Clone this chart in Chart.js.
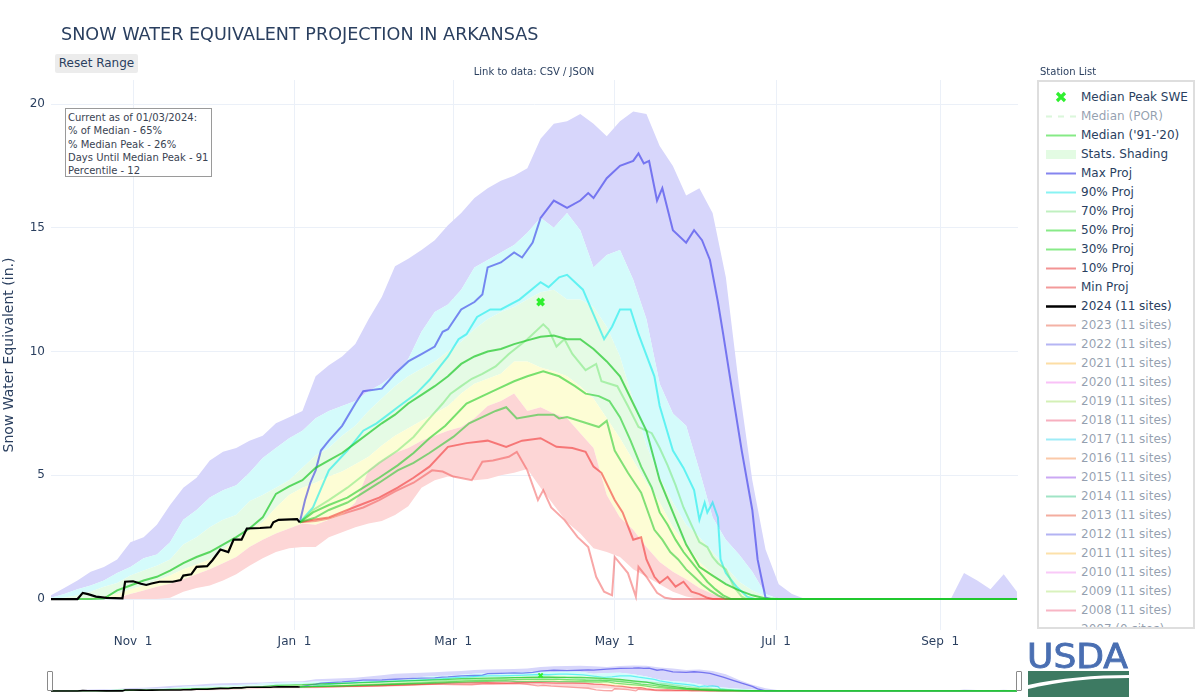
<!DOCTYPE html>
<html>
<head>
<meta charset="utf-8">
<script src="https://cdn.jsdelivr.net/npm/chart.js@4.4.1/dist/chart.umd.min.js"></script>
<style>
  html,body{margin:0;padding:0;background:#fff;}
  #wrap{position:relative;width:1200px;height:700px;overflow:hidden;font-family:"DejaVu Sans",Verdana,sans-serif;color:#2a3f5f;}
  #main{position:absolute;left:0;top:0;}
  #mini{position:absolute;left:51px;top:662px;}
  .abs{position:absolute;white-space:nowrap;}
  #title{left:61px;top:23px;font-size:17.6px;line-height:22px;color:#2a3f5f;}
  #reset{left:55px;top:54px;width:83px;height:19px;background:#ececec;border-radius:2px;font-size:12px;line-height:19px;text-align:center;color:#2a3f5f;}
  #link{left:534px;top:66px;font-size:10px;line-height:12px;transform:translateX(-50%);color:#2a3f5f;}
  #station{left:1040px;top:66px;font-size:10px;line-height:12px;color:#2a3f5f;}
  #info{left:65px;top:108px;width:147px;height:69px;border:1px solid #9a9a9a;background:#fff;font-size:10px;line-height:13.3px;color:#3a4352;padding:2px 0 0 2px;box-sizing:border-box;white-space:nowrap;}
  #legend{left:1037px;top:80px;width:158px;height:549px;border:2px solid #dedede;background:#fff;box-sizing:border-box;overflow:hidden;}
  .row{position:absolute;left:0;height:19px;width:158px;}
  .row svg{position:absolute;left:7px;top:0;}
  .row span{position:absolute;left:42px;top:0;font-size:12px;line-height:19px;}
  .handle{position:absolute;width:4px;height:18px;border:1px solid #8a8a8a;background:#fff;border-radius:1px;}
  #usda{left:1025px;top:640px;}
</style>
</head>
<body>
<div id="wrap">
  <canvas id="main" width="1200" height="700"></canvas>
  <canvas id="mini" width="967" height="31"></canvas>
  <div class="abs" id="title">SNOW WATER EQUIVALENT PROJECTION IN ARKANSAS</div>
  <div class="abs" id="reset">Reset Range</div>
  <div class="abs" id="link">Link to data: CSV / JSON</div>
  <div class="abs" id="station">Station List</div>
  <div class="abs" id="info">Current as of 01/03/2024:<br>% of Median - 65%<br>% Median Peak - 26%<br>Days Until Median Peak - 91<br>Percentile - 12</div>
  <div class="abs" id="legend"></div>
  <div class="handle" style="left:47px;top:671px;"></div>
  <div class="handle" style="left:1016px;top:671px;"></div>
  <svg class="abs" id="usda" width="108" height="58" viewBox="0 0 108 58">
    <text x="2" y="28" font-family="Liberation Sans Narrow, DejaVu Sans Condensed, Arial" font-size="34" font-weight="normal" fill="#4a6fb2" stroke="#4a6fb2" stroke-width="0.8" textLength="101" lengthAdjust="spacingAndGlyphs">USDA</text>
    <path d="M3 31 L104 31 L104 35 C70 35 35 38 3 45 Z" fill="#3d7a62"/>
    <path d="M3 49 C35 41 70 38 104 38 L104 57 L3 57 Z" fill="#3d7a62"/>
  </svg>
</div>
<script>
// ---- data: days counted from 1 Oct 2023 (water year 2024) ----
const waterYearStart = '2023-10-01';
const tickDates  = ['2023-11-01','2024-01-01','2024-03-01','2024-05-01','2024-07-01','2024-09-01'];
const tickLabels = ['Nov  1','Jan  1','Mar  1','May  1','Jul  1','Sep  1'];
const yTickValues = [0, 5, 10, 15, 20];

const statDays = [0,5,10,15,20,25,30,35,40,45,
  50,55,60,65,70,75,80,85,90,95,
  100,105,110,115,120,125,130,135,140,145,
  150,155,160,165,170,175,180,185,190,195,
  200,205,210,215,220,225,230,235,240,245,
  250,255,260,265,270,275,280,285,290,295,
  300,305,310,315,320,325,330,335,340,345,
  350,355,360,365];

const statMax = [0.15,0.45,0.75,1.1,1.3,1.6,2.3,2.5,3.0,3.8,
  4.5,4.9,5.6,5.95,6.1,6.4,6.6,7.1,7.35,7.6,
  9.0,9.45,9.8,10.3,11.3,12.2,13.45,13.75,14.1,14.5,
  15.1,15.6,16.2,16.6,16.9,17.1,17.4,18.6,19.2,19.3,
  19.6,19.2,18.7,19.3,19.7,19.6,18.3,17.5,16.3,16.6,
  15.6,13.0,8.6,4.8,2.0,0.6,0.2,0,0,0,
  0,0,0,0,0,0,0,0,0,1.05,
  0.75,0.4,1.0,0.3];

const stat90 = [0.05,0.2,0.4,0.55,0.75,1.05,1.3,1.65,1.8,2.3,
  3.2,3.6,4.1,4.4,4.6,5.1,5.7,6.1,6.5,6.8,
  7.3,7.6,7.8,8.0,8.4,8.7,9.1,9.7,10.8,11.6,
  11.9,12.5,13.4,13.7,14.0,14.3,14.8,15.4,15.0,15.6,
  14.9,13.4,13.9,14.1,12.9,11.3,8.7,7.5,7.0,5.2,
  3.3,2.4,1.8,1.1,0.2,0,0,0,0,0,
  0,0,0,0,0,0,0,0,0,0,
  0,0,0,0];

const stat70 = [0,0.05,0.15,0.3,0.5,0.65,0.95,1.15,1.35,1.6,
  2.2,2.5,2.9,3.2,3.4,3.95,4.2,4.5,4.8,5.3,
  5.8,6.1,6.6,7.0,7.6,8.1,8.6,9.0,9.3,9.6,
  10.0,10.4,10.9,11.3,11.6,11.8,12.1,12.4,12.5,12.1,
  12.1,11.8,11.0,9.8,8.0,6.2,4.9,3.9,3.0,2.5,
  1.9,1.3,0.7,0.35,0.1,0,0,0,0,0,
  0,0,0,0,0,0,0,0,0,0,
  0,0,0,0];

const stat30 = [0,0,0.02,0.05,0.1,0.2,0.4,0.55,0.75,0.95,
  1.2,1.4,1.6,2.0,2.4,2.8,3.1,3.7,4.2,4.5,
  4.7,4.95,5.15,5.45,5.75,6.2,6.6,6.9,7.2,7.5,
  7.8,8.3,8.7,8.9,9.1,9.6,9.6,9.35,9.2,9.0,
  8.6,8.1,7.3,6.5,5.6,4.7,3.9,2.9,2.2,1.5,
  1.0,0.6,0.3,0.1,0,0,0,0,0,0,
  0,0,0,0,0,0,0,0,0,0,
  0,0,0,0];

const stat10 = [0,0,0,0,0,0.05,0.2,0.35,0.5,0.62,
  0.8,1.0,1.2,1.45,1.7,2.1,2.4,2.65,2.85,3.05,
  3.0,3.2,3.4,3.9,5.2,5.6,5.9,6.1,6.4,6.6,
  6.8,6.95,7.3,7.8,8.0,8.3,7.6,7.75,7.5,7.3,
  6.7,6.1,4.2,3.3,2.8,2.1,1.5,1.1,0.8,0.45,
  0.2,0.05,0,0,0,0,0,0,0,0,
  0,0,0,0,0,0,0,0,0,0,
  0,0,0,0];

const statMin = [0,0,0,0,0,0,0,0,0,0.05,
  0.3,0.45,0.55,0.75,1.0,1.35,1.65,1.9,2.05,2.1,
  2.1,2.5,2.7,2.9,3.05,3.15,3.4,3.75,4.5,4.8,
  4.95,4.9,4.8,4.85,5.0,5.1,5.25,4.5,3.8,3.1,
  2.65,2.05,1.9,1.7,1.2,0.9,0.6,0.3,0.1,0,
  0,0,0,0,0,0,0,0,0,0,
  0,0,0,0,0,0,0,0,0,0,
  0,0,0,0];

const median9120 = [0,0,0,0,0.02,0.35,0.55,0.75,0.9,1.15,
  1.45,1.7,1.9,2.2,2.5,2.85,3.3,4.25,4.55,4.8,
  5.3,5.6,5.9,6.3,6.7,7.1,7.45,7.9,8.25,8.6,
  9.0,9.5,9.8,10.0,10.1,10.3,10.45,10.6,10.65,10.5,
  10.5,10.1,9.6,9.0,7.9,6.8,4.8,3.5,2.2,1.3,
  0.95,0.6,0.35,0.15,0.02,0,0,0,0,0,
  0,0,0,0,0,0,0,0,0,0,
  0,0,0,0];

// [day, SWE in.]
const obs2024 = [[0,0],[10,0],[12,0.25],[14,0.2],[17,0.1],[21,0.05],[27,0.03],[28,0.7],[31,0.72],[34,0.62],
  [36,0.57],[38,0.63],[41,0.7],[46,0.7],[49,0.77],[50,0.95],[53,1.0],[55,1.3],[59,1.33],[61,1.57],
  [64,2.0],[67,1.9],[69,2.4],[72,2.4],[74,2.85],[79,2.87],[83,2.9],[84,3.1],[86,3.2],[93,3.23],[94,3.1]];

const projMax = [[94,3.1],[96,4.0],[98,4.7],[100,5.2],[102,6.0],[105,6.4],[110,7.0],[115,7.9],[118,8.4],[125,8.5],
  [130,9.1],[135,9.6],[140,9.9],[145,10.2],[148,10.8],[150,10.9],[155,11.7],[160,12.0],[163,12.3],[165,13.4],
  [170,13.6],[175,14.0],[178,13.8],[182,14.4],[185,15.4],[190,16.1],[195,15.8],[200,16.1],[203,16.4],[205,16.2],
  [210,17.0],[215,17.5],[220,17.7],[222,18.0],[224,17.6],[226,17.7],[229,16.1],[231,16.6],[235,14.9],[240,14.4],
  [243,14.9],[246,14.5],[249,13.7],[252,12.0],[254,10.7],[258,8.0],[261,6.0],[265,3.6],[267,1.6],[270,0.05],
  [272,0],[365,0]];

const proj90 = [[94,3.1],[99,3.7],[105,5.2],[112,6.0],[118,6.8],[123,7.1],[128,7.5],[131,7.75],[138,8.3],[143,8.85],
  [147,9.4],[150,9.8],[154,10.5],[157,10.7],[161,11.4],[166,11.7],[170,11.7],[177,12.1],[185,12.8],[188,12.6],
  [192,13.0],[195,13.1],[201,12.5],[205,11.5],[209,10.5],[212,11.0],[215,11.7],[219,11.7],[222,10.7],[228,9.0],
  [230,7.8],[235,6.0],[239,5.3],[243,4.4],[245,3.2],[247,3.9],[248,3.5],[250,3.9],[252,3.3],[253,1.6],
  [255,1.05],[259,0.5],[263,0.1],[266,0],[365,0]];

const proj70 = [[94,3.1],[99,3.6],[105,4.0],[112,4.5],[118,5.0],[124,5.5],[131,6.0],[137,6.55],[143,7.3],[148,7.9],
  [151,8.3],[155,8.6],[159,8.9],[163,9.1],[168,9.4],[173,9.9],[180,10.5],[186,11.1],[188,10.9],[191,10.2],
  [194,10.5],[197,9.9],[202,9.25],[206,9.5],[208,8.8],[214,8.6],[218,7.8],[222,6.95],[227,6.7],[230,6.1],
  [233,5.4],[236,4.6],[239,3.7],[242,3.0],[245,2.3],[248,2.1],[250,1.7],[252,1.45],[255,1.2],[258,0.5],
  [261,0.1],[263,0],[365,0]];

const proj50 = [[94,3.1],[99,3.5],[105,3.8],[112,4.1],[118,4.5],[124,4.9],[131,5.4],[137,5.9],[143,6.5],[149,7.0],
  [157,7.9],[168,8.45],[175,8.8],[180,9.0],[186,9.2],[192,9.0],[198,8.6],[202,8.3],[207,8.2],[211,8.0],
  [215,7.35],[219,6.4],[223,5.35],[227,4.5],[230,3.5],[233,3.0],[236,2.4],[239,1.9],[242,1.5],[245,1.1],
  [248,0.7],[251,0.4],[254,0.15],[257,0],[365,0]];

const proj30 = [[94,3.1],[100,3.3],[105,3.6],[112,3.9],[118,4.3],[124,4.7],[131,5.2],[137,5.5],[143,5.9],[152,6.55],
  [158,7.1],[168,7.6],[172,7.75],[176,7.3],[184,7.45],[190,7.45],[192,7.3],[195,7.35],[201,7.15],[207,6.95],
  [210,7.2],[213,6.0],[218,5.1],[223,4.3],[228,2.8],[231,2.4],[234,1.9],[237,1.6],[240,1.2],[243,0.9],
  [246,0.6],[249,0.35],[252,0.15],[255,0],[365,0]];

const proj10 = [[94,3.1],[99,3.2],[105,3.3],[112,3.6],[118,3.85],[124,4.1],[131,4.5],[137,4.9],[143,5.35],[150,6.15],
  [157,6.3],[165,6.4],[172,6.15],[178,6.4],[185,6.5],[191,6.15],[197,6.1],[202,5.95],[205,5.35],[208,5.1],
  [213,4.0],[216,3.5],[220,2.4],[223,2.5],[225,1.6],[228,0.9],[230,0.65],[233,0.9],[236,0.5],[239,0.7],
  [242,0.3],[245,0.2],[248,0.05],[250,0],[365,0]];

const projMin = [[94,3.1],[100,3.15],[105,3.25],[112,3.5],[118,3.7],[124,4.0],[130,4.35],[137,4.7],[144,5.2],[148,5.15],
  [152,4.95],[159,4.8],[163,5.55],[167,5.6],[173,5.75],[176,5.95],[180,5.2],[184,4.0],[186,4.4],[189,3.7],
  [194,3.2],[199,2.5],[203,2.1],[206,0.9],[209,0.3],[212,0.15],[213,1.7],[218,1.05],[221,0.1],[222,1.3],
  [225,0.9],[229,0.25],[232,0.05],[235,0],[365,0]];

const medianPeak = [[185, 12.0]];

// ---- helpers ----
const DAY0 = Date.parse(waterYearStart + 'T00:00:00Z');
const dayOf = s => Math.round((Date.parse(s + 'T00:00:00Z') - DAY0) / 86400000);
const tickDays = tickDates.map(dayOf);
const gridPts = vals => statDays.map((d, i) => ({x: d, y: vals[i]}));
const pairPts = arr => arr.map(([d, v]) => ({x: d, y: v}));
const FONT = 'DejaVu Sans';

function buildDatasets(mini) {
  const lw = mini ? 1.3 : 2;
  const band = (vals, color, fill) => ({data: gridPts(vals), borderWidth: 0, borderColor: 'rgba(0,0,0,0)',
    backgroundColor: color, fill: fill, pointRadius: 0, order: 20});
  const line = (data, color, w, order) => ({data: data, borderColor: color, borderWidth: w, fill: false,
    pointRadius: 0, order: order});
  return [
    band(statMin, 'rgba(0,0,0,0)', false),
    band(stat10, 'rgb(253,214,214)', '-1'),
    band(stat30, 'rgb(253,253,213)', '-1'),
    band(stat70, 'rgb(229,251,229)', '-1'),
    band(stat90, 'rgb(212,251,251)', '-1'),
    band(statMax, 'rgb(215,214,251)', '-1'),
    line(gridPts(median9120), 'rgba(30,200,40,0.7)', lw, 3),
    line(pairPts(projMin), 'rgba(240,60,60,0.45)', lw, 9),
    line(pairPts(proj10), 'rgba(240,40,40,0.55)', lw, 9),
    line(pairPts(proj30), 'rgba(30,200,40,0.55)', lw, 5),
    line(pairPts(proj50), 'rgba(30,205,40,0.6)', lw, 5),
    line(pairPts(proj70), 'rgba(110,230,110,0.5)', lw, 6),
    line(pairPts(proj90), 'rgba(0,235,235,0.55)', lw, 7),
    line(pairPts(projMax), 'rgba(20,20,230,0.5)', lw, 7),
    line(pairPts(obs2024), '#000000', mini ? 1.6 : 2.2, 1),
    {data: pairPts(medianPeak), showLine: false, pointStyle: 'crossRot', pointRadius: mini ? 3 : 4.5,
      pointBorderWidth: mini ? 2 : 3.5, borderColor: '#2ff02f', backgroundColor: '#2ff02f', order: 0}
  ];
}

new Chart(document.getElementById('main'), {
  type: 'line',
  data: {datasets: buildDatasets(false)},
  options: {
    responsive: false, animation: false, devicePixelRatio: 1,
    layout: {padding: {left: 0, right: 182, top: 80, bottom: 0}, autoPadding: false},
    plugins: {legend: {display: false}, tooltip: {enabled: false}},
    elements: {line: {tension: 0}},
    scales: {
      x: {
        type: 'linear', min: 0, max: 365.4,
        afterBuildTicks: s => { s.ticks = tickDays.map(v => ({value: v})); },
        afterFit: s => { s.height = 70; },
        grid: {color: '#ebf0f8', lineWidth: 1, drawTicks: false},
        border: {display: false},
        ticks: {autoSkip: false, maxRotation: 0, padding: 5, color: '#2a3f5f',
          font: {family: FONT, size: 12},
          callback: (v, i) => tickLabels[i]}
      },
      y: {
        min: -1.25, max: 20.97,
        afterBuildTicks: s => { s.ticks = yTickValues.map(v => ({value: v})); },
        afterFit: s => { s.width = 51; },
        grid: {color: '#ebf0f8', lineWidth: c => (c.tick && c.tick.value === 0) ? 2 : 1, drawTicks: false},
        border: {display: false},
        ticks: {padding: 6, color: '#2a3f5f', font: {family: FONT, size: 12}},
        title: {display: true, text: 'Snow Water Equivalent (in.)', color: '#2a3f5f',
          font: {family: FONT, size: 14}, padding: {top: 1, bottom: 0}}
      }
    }
  }
});

new Chart(document.getElementById('mini'), {
  type: 'line',
  data: {datasets: buildDatasets(true)},
  options: {
    responsive: false, animation: false, devicePixelRatio: 1,
    layout: {padding: 0, autoPadding: false},
    plugins: {legend: {display: false}, tooltip: {enabled: false}},
    elements: {line: {tension: 0}},
    scales: {
      x: {type: 'linear', min: 0, max: 365.4, display: false},
      y: {min: -1.6, max: 22.5, display: false}
    }
  }
});

// ---- legend (HTML) ----
const legendItems = [
  ['Median Peak SWE', 'marker', '#2ff02f', true],
  ['Median (POR)', 'dash', '#b8f0b8', false],
  ["Median ('91-'20)", 'line', '#86ea86', true],
  ['Stats. Shading', 'shade', '#e3fbe3', true],
  ['Max Proj', 'line', '#8585ef', true],
  ['90% Proj', 'line', '#88f3f3', true],
  ['70% Proj', 'line', '#c0f0c0', true],
  ['50% Proj', 'line', '#88ea88', true],
  ['30% Proj', 'line', '#88ea88', true],
  ['10% Proj', 'line', '#f39393', true],
  ['Min Proj', 'line', '#f39a9a', true],
  ['2024 (11 sites)', 'line', '#000000', true],
  ['2023 (11 sites)', 'line', '#f3a596', false],
  ['2022 (11 sites)', 'line', '#a9a9f3', false],
  ['2021 (11 sites)', 'line', '#fcd996', false],
  ['2020 (11 sites)', 'line', '#f9b7f6', false],
  ['2019 (11 sites)', 'line', '#cdeeaa', false],
  ['2018 (11 sites)', 'line', '#f6a2b4', false],
  ['2017 (11 sites)', 'line', '#8ee9f6', false],
  ['2016 (11 sites)', 'line', '#fbc09a', false],
  ['2015 (11 sites)', 'line', '#c29af3', false],
  ['2014 (11 sites)', 'line', '#90e0bd', false],
  ['2013 (11 sites)', 'line', '#f39f8f', false],
  ['2012 (11 sites)', 'line', '#a6a6f2', false],
  ['2011 (11 sites)', 'line', '#fcdc9c', false],
  ['2010 (11 sites)', 'line', '#f9c0f7', false],
  ['2009 (11 sites)', 'line', '#d3f0b2', false],
  ['2008 (11 sites)', 'line', '#f7a9ba', false],
  ['2007 (0 sites)', 'line', '#a9e9f1', false]
];
const leg = document.getElementById('legend');
legendItems.forEach(([label, kind, color, active], i) => {
  const row = document.createElement('div');
  row.className = 'row';
  row.style.top = (5.5 + 19 * i) + 'px';
  let sym = '';
  const op = active ? 1 : 0.5;
  if (kind === 'marker') sym = `<path d="M11 5 L19 13 M19 5 L11 13" stroke="${color}" stroke-width="3.2"/>`;
  else if (kind === 'dash') sym = `<line x1="0" y1="9.5" x2="30" y2="9.5" stroke="${color}" stroke-width="2" stroke-dasharray="6,6" opacity="${op}"/>`;
  else if (kind === 'shade') sym = `<rect x="0" y="5" width="30" height="9" fill="${color}"/>`;
  else sym = `<line x1="0" y1="9.5" x2="30" y2="9.5" stroke="${color}" stroke-width="${label.startsWith('2024') ? 2.5 : 2}" opacity="${active ? 1 : 0.85}"/>`;
  row.innerHTML = `<svg width="30" height="19">${sym}</svg><span style="color:${active ? '#2a3f5f' : 'rgba(42,63,95,0.5)'}">${label}</span>`;
  leg.appendChild(row);
});
</script>
</body>
</html>
